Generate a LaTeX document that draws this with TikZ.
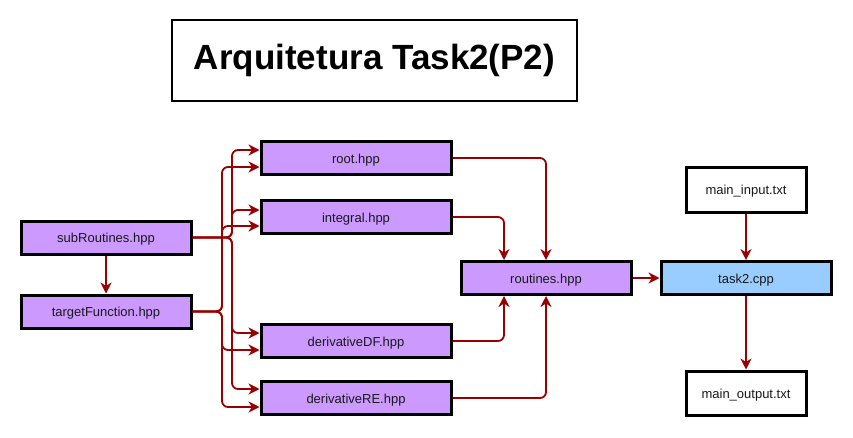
\documentclass[tikz,border=0pt]{standalone}
\usepackage{fontspec}
\setmainfont{Liberation Sans}
\usetikzlibrary{arrows.meta}
\definecolor{arrred}{HTML}{990000}
\definecolor{purp}{HTML}{CC99FF}
\definecolor{skyb}{HTML}{99CCFF}
\begin{document}
\begin{tikzpicture}[x=1pt,y=-1pt,
  box/.style={draw=black,line width=3pt,minimum height=#1,inner sep=0pt,text height=12pt,text depth=2pt,font=\fontsize{13}{15}\selectfont,text=black!90},
  box/.default=33pt,
  hpp/.style={box,fill=purp},
  arr/.style={draw=arrred,line width=1.8pt,rounded corners=6pt,-{Stealth[length=11pt,width=11pt,inset=3.5pt]}}]
\useasboundingbox (0,0) rectangle (853,437);
\node[draw=black,line width=2.2pt,minimum width=405pt,minimum height=81pt,font=\fontsize{35}{40}\selectfont\bfseries] (title) at (374.5,60.5) {Arquitetura Task2(P2)};
\node[hpp,minimum width=170pt] (sub) at (106,237.5) {subRoutines.hpp};
\node[hpp,minimum width=170pt] (tgt) at (106,311.5) {targetFunction.hpp};
\node[hpp,minimum width=190pt] (root) at (356,158) {root.hpp};
\node[hpp,minimum width=190pt] (intg) at (356,217) {integral.hpp};
\node[hpp,minimum width=190pt] (ddf) at (356,341) {derivativeDF.hpp};
\node[hpp,minimum width=190pt] (dre) at (356,398) {derivativeRE.hpp};
\node[hpp,minimum width=170pt] (rout) at (546,278) {routines.hpp};
\node[box,fill=skyb,minimum width=170pt] (task) at (746,278) {task2.cpp};
\node[box=45pt,fill=white,minimum width=120pt] (min) at (746,189.5) {main\_input.txt};
\node[box=44pt,fill=white,minimum width=120pt] (mout) at (746,393) {main\_output.txt};
\coordinate (va) at (232,0);
\coordinate (vb) at (222,0);
\coordinate (vc) at (546,0);
\coordinate (vd) at (504,0);
% subRoutines fan-out
\draw[arr] (sub.east) -- (sub.east -| va) |- ([yshift=8pt]root.west);
\draw[arr] (sub.east) -- (sub.east -| va) |- ([yshift=7pt]intg.west);
\draw[arr] (sub.east) -- (sub.east -| va) |- ([yshift=8pt]ddf.west);
\draw[arr] (sub.east) -- (sub.east -| va) |- ([yshift=9pt]dre.west);
% targetFunction fan-out
\draw[arr] (tgt.east) -- (tgt.east -| vb) |- ([yshift=-9pt]root.west);
\draw[arr] (tgt.east) -- (tgt.east -| vb) |- ([yshift=-9pt]intg.west);
\draw[arr] (tgt.east) -- (tgt.east -| vb) |- ([yshift=-9pt]ddf.west);
\draw[arr] (tgt.east) -- (tgt.east -| vb) |- ([yshift=-9pt]dre.west);
\draw[arr] (sub.south) -- (tgt.north);
% into routines
\draw[arr] (root.east) -| (rout.north -| vc);
\draw[arr] (intg.east) -| (rout.north -| vd);
\draw[arr] (ddf.east) -| (rout.south -| vd);
\draw[arr] (dre.east) -| (rout.south -| vc);
\draw[arr] (rout.east) -- (task.west);
\draw[arr] (min.south) -- (task.north);
\draw[arr] (task.south) -- (mout.north);
\end{tikzpicture}
\end{document}
